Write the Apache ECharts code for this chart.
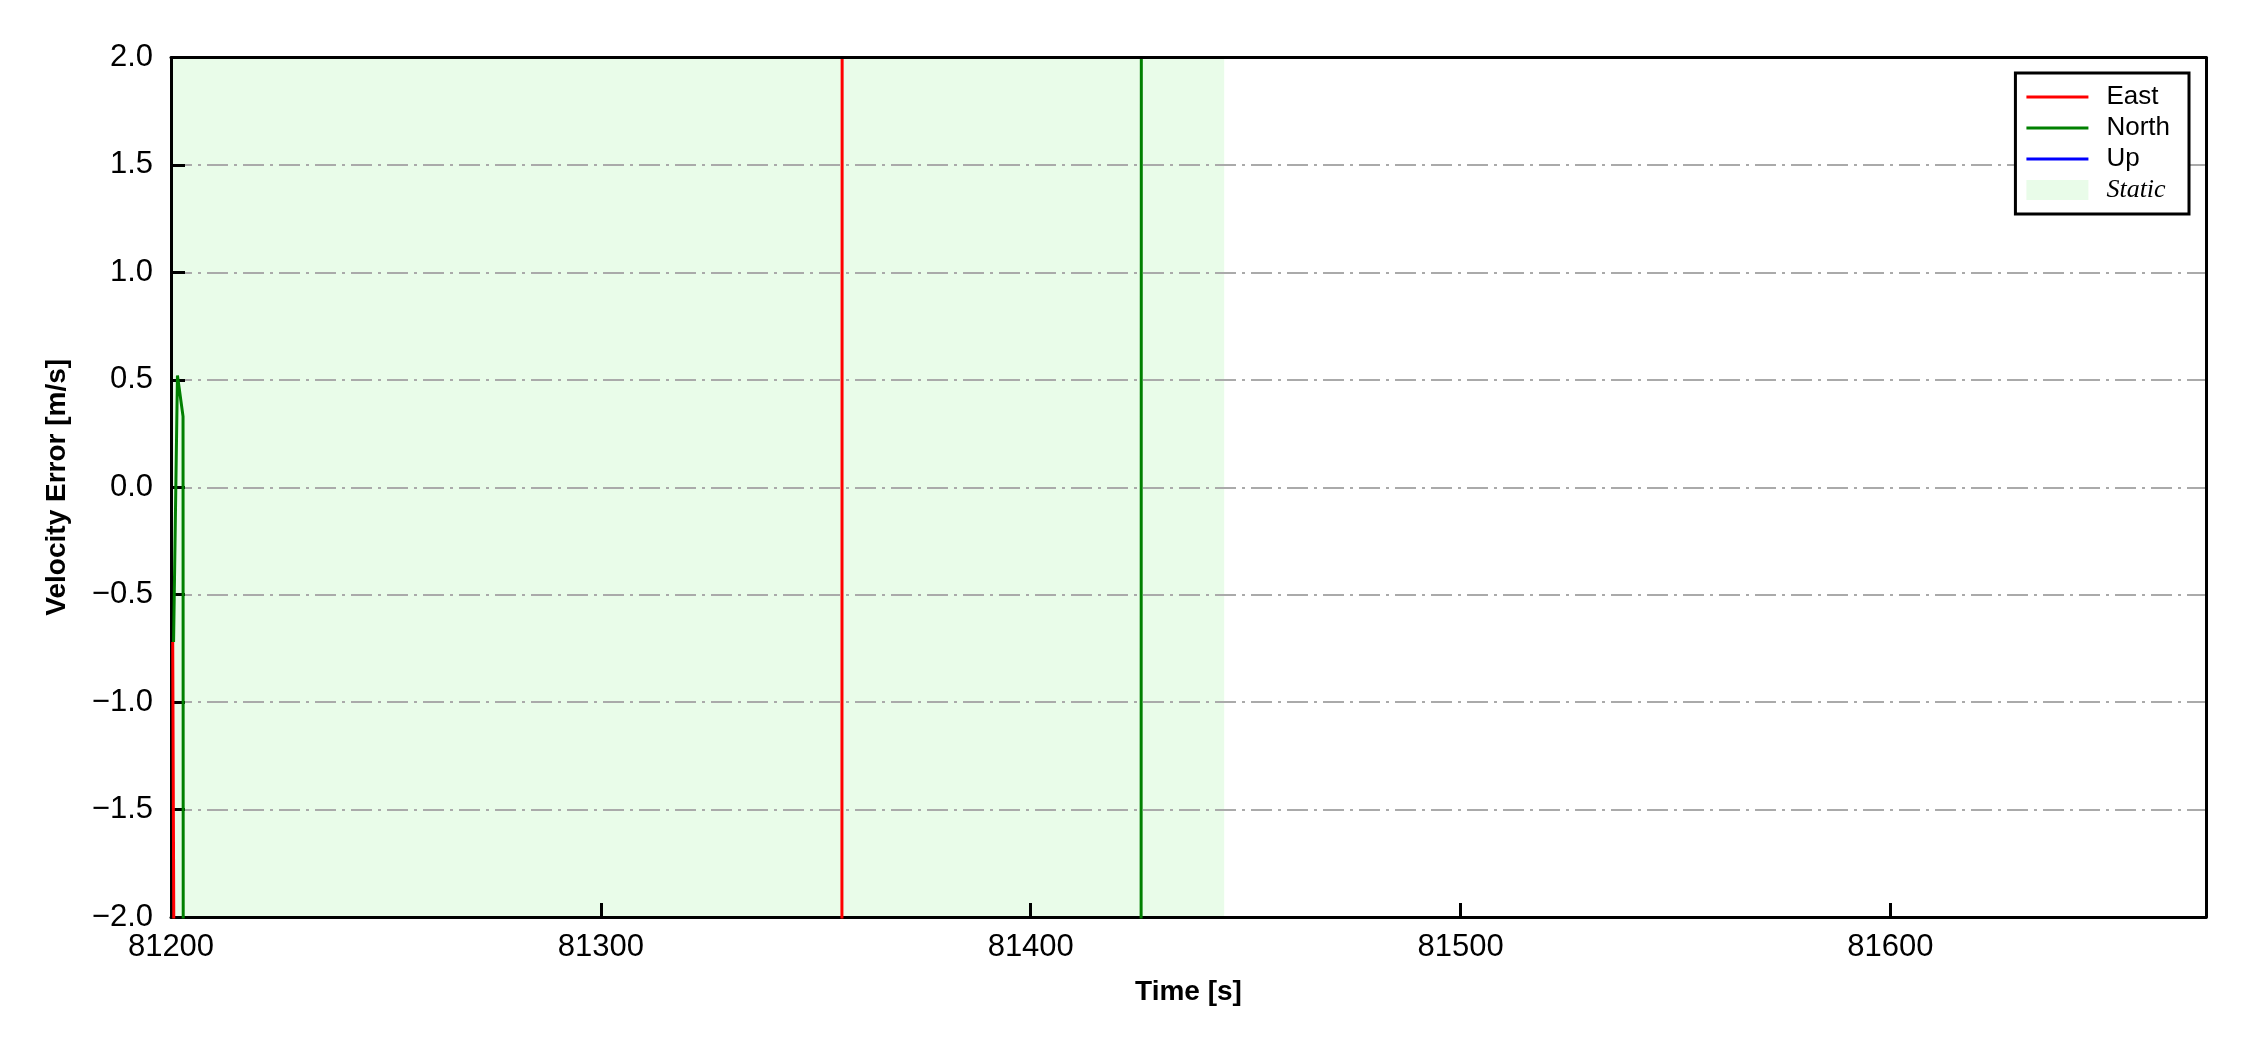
<!DOCTYPE html>
<html>
<head>
<meta charset="utf-8">
<script src="https://cdn.jsdelivr.net/npm/echarts@6/dist/echarts.min.js"></script>
<style>
html,body{margin:0;padding:0;background:#fff;}
#chart{width:2250px;height:1050px;}
</style>
</head>
<body>
<div id="chart"></div>
<script>
// ---- data ----
const eastTime  = [81200.4, 81201.4, 81356.0, 81356.2, 81673.4];
const eastVal   = [-0.72, -6, -8, 8, 8];
const northTime = [81200.6, 81201.5, 81202.8, 81202.95, 81425.6, 81425.8, 81673.4];
const northVal  = [-0.72, 0.52, 0.33, -8, -8, 8, 8];
const upTime    = [81200.4, 81673.4];
const upVal     = [-8, -8];
const staticSpan = [81200, 81445];
const xRange = [81200, 81673.4];
const yRange = [-2, 2];
const seriesNames = ['East', 'North', 'Up', 'Static'];

function pairs(t, v){ return t.map((x,i)=>[x, v[i]]); }

const lineIcon = 'path://M0,0M62,20M0,8.5L62,8.5L62,11.5L0,11.5Z';
const chart = echarts.init(document.getElementById('chart'), null, {renderer:'canvas'});
const lineBase = {type:'line', showSymbol:false, symbol:'none', clip:true, animation:false, z:3};
const frameAxis = {
  axisLine:{show:true, onZero:false, lineStyle:{color:'#000', width:3}},
  axisTick:{show:false}, axisLabel:{show:false}, splitLine:{show:false}, z:4
};
const option = {
  animation:false,
  backgroundColor:'#fff',
  grid:{left:171, right:44, top:57.5, bottom:133, show:false},
  legend:{
    orient:'vertical', right:61, top:73, z:10,
    itemWidth:62, itemHeight:20, itemGap:5,
    padding:[11,19,11,11],
    borderColor:'#000', borderWidth:3, borderRadius:0, backgroundColor:'#fff',
    textStyle:{fontSize:26, fontFamily:'Liberation Sans', color:'#000', padding:[0,0,0,13]},
    data:[
      {name:seriesNames[0], icon:lineIcon},
      {name:seriesNames[1], icon:lineIcon},
      {name:seriesNames[2], icon:lineIcon},
      {name:seriesNames[3], icon:'rect', itemStyle:{color:'#e9fce9'}, textStyle:{fontFamily:'Liberation Serif', fontStyle:'italic', fontSize:26}}
    ]
  },
  xAxis:[{
    type:'value', min:xRange[0], max:xRange[1], interval:100, z:2,
    name:'Time [s]', nameLocation:'middle', nameGap:61,
    nameTextStyle:{fontSize:28, fontWeight:'bold', fontFamily:'Liberation Sans', color:'#000'},
    axisLine:{show:true, onZero:false, lineStyle:{color:'#000', width:3}},
    axisTick:{show:true, inside:true, length:14, lineStyle:{color:'#000', width:3}},
    axisLabel:{fontSize:31, fontFamily:'Liberation Sans', color:'#000', margin:15, showMaxLabel:false,
      formatter:function(v){ return String(Math.round(v)); }},
    splitLine:{show:false}
  }, Object.assign({type:'value', position:'top', min:xRange[0], max:xRange[1]}, frameAxis)],
  yAxis:[{
    type:'value', min:yRange[0], max:yRange[1], interval:0.5, z:2,
    name:'Velocity Error [m/s]', nameLocation:'middle', nameGap:100,
    nameTextStyle:{fontSize:28, fontWeight:'bold', fontFamily:'Liberation Sans', color:'#000'},
    axisLine:{show:true, onZero:false, lineStyle:{color:'#000', width:3}},
    axisTick:{show:true, inside:true, length:14, lineStyle:{color:'#000', width:3}},
    axisLabel:{fontSize:31, fontFamily:'Liberation Sans', color:'#000', margin:18,
      formatter:function(v){ return (v<0?'\u2212':'') + Math.abs(v).toFixed(1); }},
    splitLine:{show:true, showMinLine:false, showMaxLine:false, lineStyle:{color:'#aaaaaa', width:2, type:[21,6,3,6]}}
  }, Object.assign({type:'value', position:'right', min:yRange[0], max:yRange[1]}, frameAxis)],
  series:[
    Object.assign({}, lineBase, {name:seriesNames[3], z:1, color:'#e9fce9', data:[],
      lineStyle:{width:0},
      markArea:{silent:true, z:1, itemStyle:{color:'#e9fce9'}, data:[[{xAxis:staticSpan[0]},{xAxis:staticSpan[1]}]]}}),
    Object.assign({}, lineBase, {name:seriesNames[0], color:'#ff0000', lineStyle:{width:3, color:'#ff0000'}, data:pairs(eastTime, eastVal)}),
    Object.assign({}, lineBase, {name:seriesNames[1], color:'#008000', lineStyle:{width:3, color:'#008000'}, data:pairs(northTime, northVal)}),
    Object.assign({}, lineBase, {name:seriesNames[2], color:'#0000ff', lineStyle:{width:3, color:'#0000ff'}, data:pairs(upTime, upVal)})
  ]
};
chart.setOption(option);
</script>
</body>
</html>
